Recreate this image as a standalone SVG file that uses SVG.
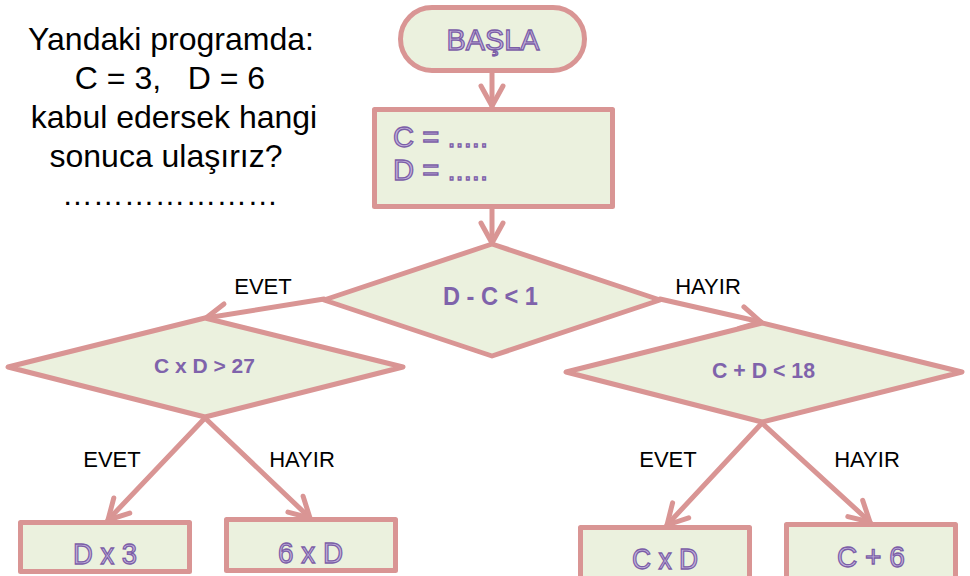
<svg xmlns="http://www.w3.org/2000/svg" width="970" height="576" viewBox="0 0 970 576">
<defs>
<style>
.shape{fill:#ebf1de;stroke:#d99594;stroke-width:5;stroke-linejoin:round}
.conn{stroke:#d99594;stroke-width:5;stroke-linecap:round;fill:none}
.q{font-family:"Liberation Sans",Arial,sans-serif;font-size:32px;fill:#000;text-anchor:middle}
.lbl{font-family:"Liberation Sans",Arial,sans-serif;font-size:22px;fill:#000;text-anchor:middle}
.out{font-family:"Liberation Sans",Arial,sans-serif;font-size:30px;fill:#c4b4de;stroke:#7b5ea7;stroke-width:1.3}
.cond{font-family:"Liberation Sans",Arial,sans-serif;font-weight:bold;fill:#7f63ab;text-anchor:middle}
</style>
<marker id="ah" markerUnits="userSpaceOnUse" viewBox="-26 -16 32 32" markerWidth="32" markerHeight="32" refX="0" refY="0" orient="auto" overflow="visible">
<path d="M-20,-11 L0,0 L-20,11" fill="none" stroke="#d99594" stroke-width="5" stroke-linecap="round" stroke-linejoin="round"/>
</marker>
</defs>
<rect width="970" height="576" fill="#ffffff"/>

<g id="question">
<text class="q" x="171" y="50">Yandaki programda:</text>
<text class="q" x="170" y="89" xml:space="preserve">C = 3,   D = 6</text>
<text class="q" x="174" y="128">kabul edersek hangi</text>
<text class="q" x="166" y="167">sonuca ulaşırız?</text>
<text class="q" x="170" y="205" textLength="216" lengthAdjust="spacingAndGlyphs">…………………</text>
</g>

<g id="connectors">
<line class="conn" x1="492" y1="73" x2="492" y2="106" marker-end="url(#ah)"/>
<line class="conn" x1="492" y1="208" x2="492" y2="243" marker-end="url(#ah)"/>
<line class="conn" x1="324" y1="299" x2="206" y2="318" marker-end="url(#ah)"/>
<line class="conn" x1="660" y1="299" x2="761" y2="322" marker-end="url(#ah)"/>
<line class="conn" x1="205" y1="418" x2="108" y2="520" marker-end="url(#ah)"/>
<line class="conn" x1="205" y1="418" x2="310" y2="518" marker-end="url(#ah)"/>
<line class="conn" x1="762" y1="423" x2="667" y2="525" marker-end="url(#ah)"/>
<line class="conn" x1="762" y1="423" x2="870" y2="522" marker-end="url(#ah)"/>
<text class="lbl" x="263" y="294">EVET</text>
<text class="lbl" x="708" y="294">HAYIR</text>
<text class="lbl" x="112" y="467">EVET</text>
<text class="lbl" x="302" y="467">HAYIR</text>
<text class="lbl" x="668" y="467">EVET</text>
<text class="lbl" x="867" y="467">HAYIR</text>
</g>

<g id="basla">
<rect class="shape" x="400.5" y="7.5" width="184" height="63" rx="31.5"/>
<text class="out" x="493" y="50" text-anchor="middle" textLength="93" lengthAdjust="spacingAndGlyphs">BAŞLA</text>
</g>

<g id="input">
<rect class="shape" x="374.5" y="109.5" width="238" height="97"/>
<text class="out" x="393" y="147" textLength="95" lengthAdjust="spacingAndGlyphs">C = .....</text>
<text class="out" x="393" y="180" textLength="95" lengthAdjust="spacingAndGlyphs">D = .....</text>
</g>

<g id="cond1">
<polygon class="shape" points="492,244 660,300 492,356 324,300"/>
<text class="cond" x="490.5" y="305" font-size="25" textLength="95" lengthAdjust="spacingAndGlyphs">D - C &lt; 1</text>
</g>

<g id="cond2">
<polygon class="shape" points="205,318 403,367 205,417 8,367"/>
<text class="cond" x="204.5" y="373" font-size="21" textLength="101" lengthAdjust="spacingAndGlyphs">C x D &gt; 27</text>
</g>

<g id="cond3">
<polygon class="shape" points="762,323 962,372 762,422 566,372"/>
<text class="cond" x="763.5" y="378" font-size="22" textLength="103" lengthAdjust="spacingAndGlyphs">C + D &lt; 18</text>
</g>

<g id="out1">
<rect class="shape" x="20.5" y="522.5" width="169" height="49"/>
<text class="out" x="105" y="564" text-anchor="middle" textLength="64" lengthAdjust="spacingAndGlyphs">D x 3</text>
</g>

<g id="out2">
<rect class="shape" x="226.5" y="519.5" width="169" height="51"/>
<text class="out" x="310.5" y="563" text-anchor="middle" textLength="65" lengthAdjust="spacingAndGlyphs">6 x D</text>
</g>

<g id="out3">
<rect class="shape" x="580.5" y="527.5" width="169" height="55"/>
<text class="out" x="665" y="569" text-anchor="middle" textLength="66" lengthAdjust="spacingAndGlyphs">C x D</text>
</g>

<g id="out4">
<rect class="shape" x="786.5" y="524.5" width="169" height="58"/>
<text class="out" x="871" y="567" text-anchor="middle" textLength="68" lengthAdjust="spacingAndGlyphs">C + 6</text>
</g>
</svg>
